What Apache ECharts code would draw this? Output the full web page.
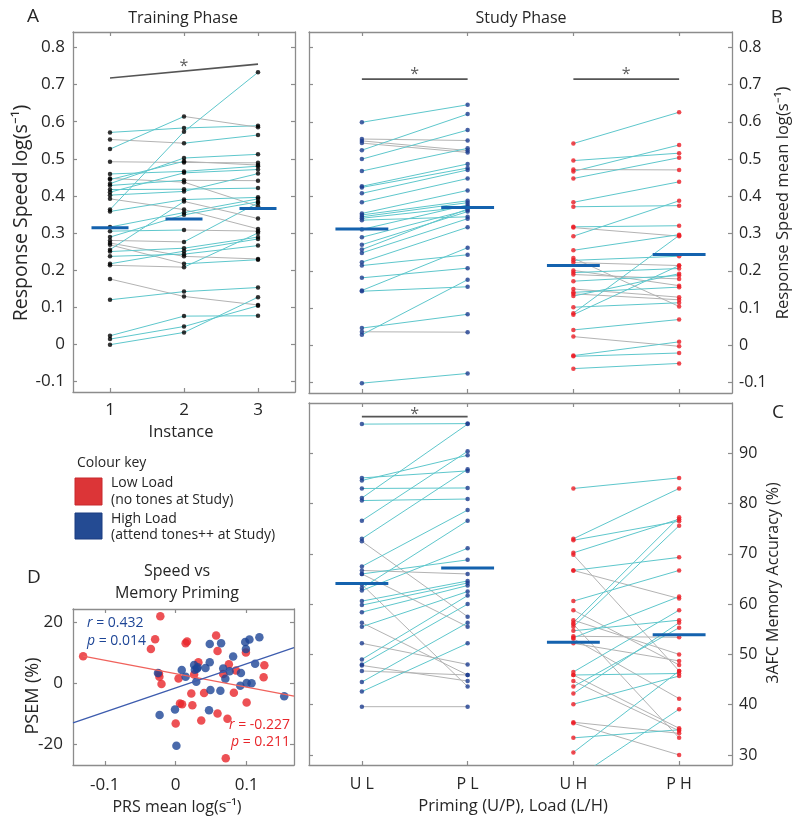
<!DOCTYPE html>
<html><head><meta charset="utf-8">
<script src="https://cdn.jsdelivr.net/npm/echarts@6/dist/echarts.min.js"></script>
<style>html,body{margin:0;padding:0;background:#fff}#c{width:800px;height:826px}</style>
</head><body><div id="c"></div>
<script>
// ---------------- DATA ----------------
const trainInstances = [1, 2, 3];
const trainInst1 = [0.571,0.552,0.526,0.492,0.459,0.447,0.433,0.428,0.417,0.410,0.402,0.392,0.363,0.358,0.316,0.305,0.289,0.280,0.273,0.268,0.255,0.250,0.237,0.217,0.213,0.176,0.120,0.023,0.014,-0.001,0.444];
const trainInst2 = [0.583,0.542,0.614,0.490,0.466,0.437,0.502,0.442,0.418,0.462,0.412,0.363,0.573,0.390,0.355,0.308,0.349,0.276,0.237,0.217,0.385,0.259,0.243,0.251,0.208,0.129,0.142,0.076,0.048,0.032,0.493];
const trainInst3 = [0.589,0.564,0.585,0.489,0.480,0.372,0.512,0.441,0.421,0.471,0.460,0.311,0.733,0.396,0.392,0.305,0.384,0.381,0.230,0.228,0.339,0.289,0.266,0.284,0.300,0.106,0.153,0.077,0.104,0.127,0.483];
const trainMeans = [0.314, 0.338, 0.366];

const studyCategories = ['U L', 'P L', 'U H', 'P H'];
const speedUL = [0.599,0.554,0.549,0.543,0.524,0.500,0.468,0.427,0.424,0.408,0.384,0.354,0.350,0.345,0.341,0.336,0.311,0.290,0.270,0.257,0.248,0.223,0.214,0.181,0.147,0.145,0.046,0.036,0.028,-0.102];
const speedPL = [0.646,0.550,0.523,0.518,0.621,0.578,0.529,0.487,0.476,0.471,0.448,0.416,0.388,0.383,0.372,0.345,0.377,0.363,0.359,0.366,0.340,0.317,0.243,0.207,0.262,0.157,0.083,0.035,0.176,-0.076];
const speedUH = [0.542,0.496,0.467,0.472,0.448,0.384,0.372,0.318,0.316,0.293,0.255,0.234,0.228,0.222,0.201,0.195,0.190,0.172,0.151,0.142,0.138,0.132,0.102,0.086,0.082,0.041,0.023,-0.028,-0.030,-0.063];
const speedPH = [0.626,0.516,0.538,0.471,0.504,0.439,0.375,0.321,0.293,0.388,0.297,0.104,0.239,0.214,0.160,0.206,0.178,0.187,0.129,0.156,0.122,0.192,0.114,0.295,0.214,0.069,-0.003,0.009,-0.021,-0.049];
const speedMeans = [0.312, 0.370, 0.214, 0.244];

const accUL = [95.8,85.1,84.6,83.0,81.1,80.6,76.6,73.0,72.5,67.5,66.7,66.0,63.9,63.2,62.7,60.6,59.8,58.4,56.3,55.5,52.2,49.0,48.0,47.8,46.7,44.5,42.6,39.6,66.0];
const accPL = [95.9,86.5,89.6,83.1,95.8,80.9,90.4,86.8,57.5,78.7,66.0,55.5,43.6,76.6,71.1,64.6,64.2,63.7,45.9,62.5,48.0,61.7,60.0,44.7,45.9,56.3,52.2,39.6,68.8];
const accUH = [83.0,73.0,72.7,70.2,69.8,66.7,66.7,60.6,58.8,56.8,56.3,55.5,54.7,53.6,53.1,52.2,46.5,45.9,45.9,44.7,43.6,42.2,40.1,36.5,36.3,33.4,30.5,25.0,53.3,56.0];
const accPH = [85.1,83.0,76.5,76.9,46.7,69.3,61.1,66.7,47.9,50.0,77.3,75.6,56.8,53.4,41.2,48.7,58.8,46.2,35.3,34.8,55.3,56.3,45.7,34.3,30.0,35.0,46.7,39.1,61.5,33.4];
const accMeans = [64.1, 67.2, 52.4, 53.9];

const psemRedX = [-0.1305,-0.0217,-0.029,-0.035,-0.0236,-0.023,-0.020,0.000,0.004,0.006,0.009,0.014,0.016,0.022,0.0235,0.026,0.032,0.036,0.040,0.057,0.059,0.059,0.067,0.073,0.075,0.0706,0.082,0.085,0.099,0.100,0.125,0.124];
const psemRedY = [8.9,22,14.5,11.3,3.2,2.2,-0.2,-13.2,1.6,-6.6,-6.9,13.2,13.7,-3.3,-7.2,2.9,6.9,-12.2,-3.2,15.7,10.6,-9.9,3.1,-11.6,6.3,-24.6,-3.1,4.2,10.1,-6.3,5.9,2.0];
const psemBlueX = [-0.0227,-0.025,-0.001,0.001,0.0085,0.014,0.026,0.027,0.030,0.031,0.029,0.042,0.048,0.048,0.049,0.047,0.064,0.063,0.067,0.070,0.076,0.081,0.092,0.091,0.098,0.099,0.104,0.100,0.107,0.112,0.118,0.153];
const psemBlueY = [-10.4,3.4,-8.6,-20.5,4.4,2.2,6.0,4.5,4.8,5.3,0.5,5.0,6.9,12.9,-2.2,-8.8,13.2,-2.4,4.9,1.5,4.0,8.8,3.4,-0.8,13.6,11.3,14.4,0.1,0.0,6.4,15.1,-4.2];
const redFitX = [-0.1305, 0.1668];
const redFitY = [8.9, -4.2];
const blueFitX = [-0.1448, 0.1668];
const blueFitY = [-13.0, 11.7];

const speedTicks = [-0.1,0,0.1,0.2,0.3,0.4,0.5,0.6,0.7,0.8];
const accTicks = [30,40,50,60,70,80,90];
const dXTicks = [-0.1, 0, 0.1];
const dYTicks = [-20, 0, 20];

// significance annotations (data coords)
const trainSigY = [0.7175, 0.755];
const trainStar = [2, 0.749];
const speedSigY = 0.715;
const speedStarY = 0.727;
const accSigY = 97.3;
const accStarY = 97.8;

// ---------------- STYLE ----------------
const FONT = 'Open Sans';
const CYAN = '#5ec7cc', GREY = '#b3b3b3', NAVY = '#1b3c8e', RED = '#ec1c24';
const MEAN = '#1462ae', SIG = '#555555', AXIS = '#8c8c8c', TXT = '#262626';
const HALF = 0.25;

const fmtNum = v => String(+(+v).toFixed(2));

function xAx(grid, pos, min, max, ticks, labels, fmt, margin, size) {
  return {
    type: 'value', gridIndex: grid, position: pos, min: min, max: max,
    axisLine: { show: true, onZero: false, lineStyle: { color: AXIS, width: 1.3 } },
    axisTick: { show: true, inside: true, length: 4, customValues: ticks, lineStyle: { color: AXIS, width: 1.2 } },
    axisLabel: { show: labels, customValues: ticks, formatter: fmt || fmtNum, margin: margin || 11,
      fontFamily: FONT, fontSize: size || 16, color: TXT },
    splitLine: { show: false }
  };
}
function yAx(grid, pos, min, max, ticks, labels, fmt, margin, size) {
  return {
    type: 'value', gridIndex: grid, position: pos, min: min, max: max,
    axisLine: { show: true, onZero: false, lineStyle: { color: AXIS, width: 1.3 } },
    axisTick: { show: true, inside: true, length: 4, customValues: ticks, lineStyle: { color: AXIS, width: 1.2 } },
    axisLabel: { show: labels, customValues: ticks, formatter: fmt || fmtNum, margin: margin || 8,
      fontFamily: FONT, fontSize: size || 16, color: TXT },
    splitLine: { show: false }
  };
}

const SPD_MIN = -0.1285, SPD_MAX = 0.8416;
const xAxes = [
  xAx(0, 'bottom', 0.5, 3.5, trainInstances, true, null, 10, 17),
  xAx(0, 'top', 0.5, 3.5, trainInstances, false),
  xAx(1, 'bottom', 0.5, 4.5, [1,2,3,4], false),
  xAx(1, 'top', 0.5, 4.5, [1,2,3,4], false),
  xAx(2, 'bottom', 0.5, 4.5, [1,2,3,4], true, v => studyCategories[Math.round(v) - 1], 11, 16),
  xAx(2, 'top', 0.5, 4.5, [1,2,3,4], false),
  xAx(3, 'bottom', -0.1448, 0.1668, dXTicks, true, null, 12, 17),
  xAx(3, 'top', -0.1448, 0.1668, dXTicks, false)
];
const yAxes = [
  yAx(0, 'left', SPD_MIN, SPD_MAX, speedTicks, true, null, 8, 17),
  yAx(0, 'right', SPD_MIN, SPD_MAX, speedTicks, false),
  yAx(1, 'left', SPD_MIN, SPD_MAX, speedTicks, false),
  yAx(1, 'right', SPD_MIN, SPD_MAX, speedTicks, true, null, 7, 16),
  yAx(2, 'left', 28, 100, accTicks, false),
  yAx(2, 'right', 28, 100, accTicks, true, null, 7, 16),
  yAx(3, 'left', -26.8, 24.4, dYTicks, true, null, 10, 17),
  yAx(3, 'right', -26.8, 24.4, dYTicks, false)
];

const series = [];
function seg(xi, x1, y1, x2, y2, color, width, z) {
  series.push({
    type: 'line', xAxisIndex: xi, yAxisIndex: xi, data: [[x1, y1], [x2, y2]],
    showSymbol: false, symbol: 'none', clip: true, silent: true, animation: false,
    lineStyle: { color: color, width: width }, z: z
  });
}
function pairColor(a, b) { return b > a ? CYAN : GREY; }
function dots(xi, pts, color, size, z) {
  series.push({ type: 'scatter', xAxisIndex: xi, yAxisIndex: xi, data: pts, symbolSize: size,
    itemStyle: { color: color }, clip: true, silent: true, animation: false, z: z || 3 });
}
function star(xi, x, y) {
  series.push({ type: 'scatter', xAxisIndex: xi, yAxisIndex: xi, data: [[x, y]], symbolSize: 2,
    itemStyle: { color: 'rgba(0,0,0,0)' }, silent: true, animation: false, z: 5,
    label: { show: true, position: 'inside', formatter: '*', fontFamily: FONT, fontSize: 16, color: '#333' } });
}

// Panel A
for (let i = 0; i < trainInst1.length; i++) {
  seg(0, trainInstances[0], trainInst1[i], trainInstances[1], trainInst2[i], pairColor(trainInst1[i], trainInst2[i]), 1, 1);
  seg(0, trainInstances[1], trainInst2[i], trainInstances[2], trainInst3[i], pairColor(trainInst2[i], trainInst3[i]), 1, 1);
}
dots(0, [].concat(trainInst1.map(v => [trainInstances[0], v]), trainInst2.map(v => [trainInstances[1], v]), trainInst3.map(v => [trainInstances[2], v])), '#000', 4.5);
trainMeans.forEach((m, k) => seg(0, trainInstances[k] - HALF, m, trainInstances[k] + HALF, m, MEAN, 3, 4));
seg(0, trainInstances[0], trainSigY[0], trainInstances[2], trainSigY[1], SIG, 1.6, 4);
star(0, trainStar[0], trainStar[1]);

// Panel B
function pairPanel(xi, a, b, xa, xb, color) {
  for (let i = 0; i < a.length; i++) seg(xi, xa, a[i], xb, b[i], pairColor(a[i], b[i]), 1, 1);
  dots(xi, [].concat(a.map(v => [xa, v]), b.map(v => [xb, v])), color, 4.5);
}
pairPanel(2, speedUL, speedPL, 1, 2, NAVY);
pairPanel(2, speedUH, speedPH, 3, 4, RED);
speedMeans.forEach((m, k) => seg(2, k + 1 - HALF, m, k + 1 + HALF, m, MEAN, 3, 4));
seg(2, 1, speedSigY, 2, speedSigY, SIG, 1.6, 4);
seg(2, 3, speedSigY, 4, speedSigY, SIG, 1.6, 4);
star(2, 1.5, speedStarY);
star(2, 3.5, speedStarY);

// Panel C
pairPanel(4, accUL, accPL, 1, 2, NAVY);
pairPanel(4, accUH, accPH, 3, 4, RED);
accMeans.forEach((m, k) => seg(4, k + 1 - HALF, m, k + 1 + HALF, m, MEAN, 3, 4));
seg(4, 1, accSigY, 2, accSigY, SIG, 1.6, 4);
star(4, 1.5, accStarY);

// Panel D
dots(6, psemRedX.map((x, i) => [x, psemRedY[i]]), '#e8262b', 8.5, 3);
dots(6, psemBlueX.map((x, i) => [x, psemBlueY[i]]), '#1d4596', 8.5, 3);
seg(6, redFitX[0], redFitY[0], redFitX[1], redFitY[1], '#f0625c', 1.3, 4);
seg(6, blueFitX[0], blueFitY[0], blueFitX[1], blueFitY[1], '#3d5cae', 1.3, 4);

// ---------------- TEXT ----------------
function T(x, y, text, size, opts) {
  opts = opts || {};
  return { type: 'text', x: x, y: y, rotation: opts.rot || 0, silent: true, z: 10,
    style: { text: text, fill: opts.color || TXT, font: (opts.weight || 'normal') + ' ' + size + 'px "' + FONT + '"',
      textAlign: opts.align || 'center', textVerticalAlign: 'middle', rich: opts.rich } };
}
const graphic = [
  T(33, 17, 'A', 19),
  T(183, 18, 'Training Phase', 16),
  T(521, 18, 'Study Phase', 16),
  T(777, 18, 'B', 19),
  T(778, 413, 'C', 19),
  T(34, 578, 'D', 19),
  T(21, 213, 'Response Speed log(s⁻¹)', 19.5, { rot: Math.PI / 2 }),
  T(783, 203, 'Response Speed mean log(s⁻¹)', 16.6, { rot: Math.PI / 2 }),
  T(773, 583, '3AFC Memory Accuracy (%)', 16, { rot: Math.PI / 2 }),
  T(181, 432, 'Instance', 16.5),
  T(513, 806, 'Priming (U/P), Load (L/H)', 16.6),
  T(177, 571, 'Speed vs', 16),
  T(177, 593, 'Memory Priming', 16),
  T(177, 807, 'PRS mean log(s⁻¹)', 16),
  T(33, 696, 'PSEM (%)', 18, { rot: Math.PI / 2 }),
  T(77, 463, 'Colour key', 14, { align: 'left' }),
  T(111, 483, 'Low Load', 14, { align: 'left' }),
  T(111, 500, '(no tones at Study)', 14, { align: 'left' }),
  T(111, 519, 'High Load', 14, { align: 'left' }),
  T(111, 535, '(attend tones++ at Study)', 14, { align: 'left' }),
  { type: 'rect', shape: { x: 75, y: 478, width: 27, height: 27 }, style: { fill: '#dc3537', stroke: '#c8282c', lineWidth: 1 }, silent: true },
  { type: 'rect', shape: { x: 75, y: 513, width: 27, height: 26 }, style: { fill: '#244b93', stroke: '#1b3c80', lineWidth: 1 }, silent: true },
  T(87, 623, '{i|r} = 0.432', 14, { align: 'left', color: '#1d4596', rich: { i: { fontStyle: 'italic', fontFamily: FONT, fontSize: 14, fill: '#1d4596' } } }),
  T(87, 641, '{i|p} = 0.014', 14, { align: 'left', color: '#1d4596', rich: { i: { fontStyle: 'italic', fontFamily: FONT, fontSize: 14, fill: '#1d4596' } } }),
  T(290, 725, '{i|r} = -0.227', 14, { align: 'right', color: '#e8262b', rich: { i: { fontStyle: 'italic', fontFamily: FONT, fontSize: 14, fill: '#e8262b' } } }),
  T(290, 742, '{i|p} = 0.211', 14, { align: 'right', color: '#e8262b', rich: { i: { fontStyle: 'italic', fontFamily: FONT, fontSize: 14, fill: '#e8262b' } } })
];

const chart = echarts.init(document.getElementById('c'), null, { renderer: 'canvas' });
chart.setOption({
  animation: false,
  backgroundColor: '#fff',
  grid: [
    { left: 73, top: 32, width: 222, height: 360 },
    { left: 309, top: 32, width: 423, height: 361 },
    { left: 309, top: 403, width: 423, height: 362 },
    { left: 73, top: 609, width: 221, height: 156 }
  ],
  xAxis: xAxes,
  yAxis: yAxes,
  series: series,
  graphic: graphic
});
</script></body></html>
